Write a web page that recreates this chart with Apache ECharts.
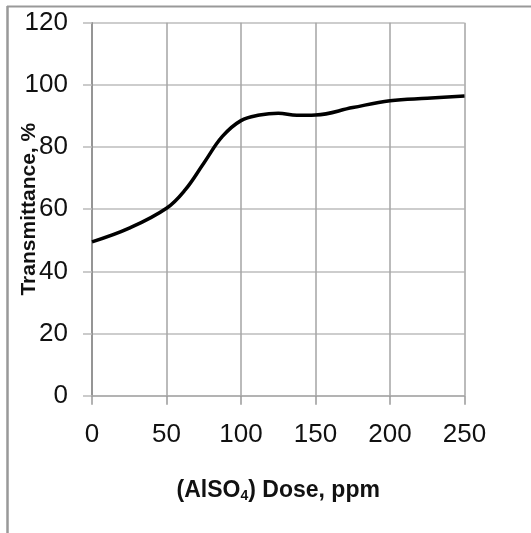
<!DOCTYPE html>
<html>
<head>
<meta charset="utf-8">
<script src="https://cdn.jsdelivr.net/npm/echarts@6/dist/echarts.min.js"></script>
<style>html,body{margin:0;padding:0;background:#fff;}#c{width:531px;height:533px;}</style>
</head>
<body>
<div id="c"></div>
<script>
const doses = [0, 25, 50, 62.5, 75, 87.5, 100, 112.5, 125, 137.5, 150, 175, 200, 225, 250];
const transmittance = [49.5, 53.9, 60.3, 66.2, 74.8, 83.4, 88.5, 90.3, 90.9, 90.2, 90.3, 92.7, 94.9, 95.7, 96.4];
const xTicks = [0, 50, 100, 150, 200, 250];
const yTicks = [0, 20, 40, 60, 80, 100, 120];

const chart = echarts.init(document.getElementById('c'), null, {renderer: 'canvas'});
const F = 'Liberation Sans, Arial, sans-serif';
chart.setOption({
  animation: false,
  backgroundColor: '#fff',
  grid: {left: 92, right: 66.5, top: 22.7, bottom: 137.3, containLabel: false, outerBoundsMode: 'none'},
  graphic: [
    {type: 'line', shape: {x1: 7, y1: 6.5, x2: 531, y2: 6.5}, style: {stroke: '#999', lineWidth: 2}},
    {type: 'line', shape: {x1: 7.5, y1: 6, x2: 7.5, y2: 533}, style: {stroke: '#999', lineWidth: 2.5}}
  ],
  xAxis: {
    type: 'value', min: xTicks[0], max: xTicks[xTicks.length - 1], interval: 50,
    name: '{a|(AlSO}{s|4}{a|) Dose, ppm}', nameLocation: 'middle', nameGap: 82, nameMoveOverlap: false,
    nameTextStyle: {rich: {
      a: {fontFamily: F, fontWeight: 'bold', fontSize: 23, color: '#111'},
      s: {fontFamily: F, fontWeight: 'bold', fontSize: 14, color: '#111', verticalAlign: 'bottom', padding: [11, 0, 0, 0]}
    }},
    axisLine: {show: true, lineStyle: {color: '#aaa', width: 1.5}},
    axisTick: {show: true, length: 9, lineStyle: {color: '#999', width: 1.5}},
    splitLine: {show: true, lineStyle: {color: '#a5a5a5', width: 1.5}},
    axisLabel: {margin: 26, fontFamily: F, fontSize: 26, color: '#111'}
  },
  yAxis: {
    type: 'value', min: yTicks[0], max: yTicks[yTicks.length - 1], interval: 20,
    name: 'Transmittance, %', nameLocation: 'middle', nameGap: 52, nameRotate: 90, nameMoveOverlap: false,
    nameTextStyle: {fontFamily: F, fontWeight: 'bold', fontSize: 21, color: '#111'},
    axisLine: {show: true, lineStyle: {color: '#888', width: 1.5}},
    axisTick: {show: true, length: 9, lineStyle: {color: '#bbb', width: 1.5}},
    splitLine: {show: true, lineStyle: {color: '#bdbdbd', width: 1.5}},
    axisLabel: {margin: 24, fontFamily: F, fontSize: 26, color: '#111'}
  },
  series: [{
    type: 'line', smooth: 0.4, showSymbol: false,
    data: doses.map((d, i) => [d, transmittance[i]]),
    lineStyle: {color: '#000', width: 3.5}
  }]
});
</script>
</body>
</html>
